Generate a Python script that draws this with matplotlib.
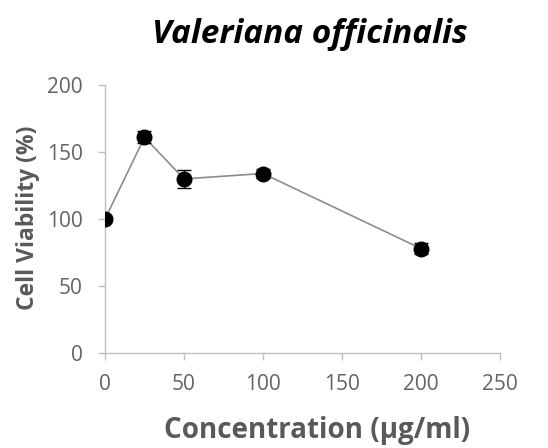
import matplotlib
matplotlib.use("Agg")
import matplotlib.pyplot as plt

concentration = [0, 25, 50, 100, 200]
viability = [100, 161, 130, 134, 78]
errors = [2, 4.5, 7, 3.5, 4]
x_ticks = [0, 50, 100, 150, 200, 250]
y_ticks = [0, 50, 100, 150, 200]

fig = plt.figure(figsize=(5.48, 4.48), dpi=100)
ax = fig.add_axes([0.1916, 0.212, 0.7208, 0.598])

ax.plot(concentration, viability, color="#8c8c8c", lw=1.2, zorder=2)
ax.errorbar(concentration, viability, yerr=errors, fmt="o", color="black",
            ms=10.5, ecolor="black", elinewidth=1, capsize=5, capthick=1, zorder=3)

ax.set_xlim(0, 250)
ax.set_ylim(0, 200)
ax.set_xticks(x_ticks)
ax.set_yticks(y_ticks)
for s in ["top", "right"]:
    ax.spines[s].set_visible(False)
for s in ["left", "bottom"]:
    ax.spines[s].set_color("#bfbfbf")
    ax.spines[s].set_linewidth(1)
ax.tick_params(axis="both", colors="#bfbfbf", length=5, width=1, labelcolor="#636363",
               labelsize=15)
ax.tick_params(axis="y", pad=11)
ax.tick_params(axis="x", pad=10)
for lab in ax.get_xticklabels() + ax.get_yticklabels():
    lab.set_family("Open Sans")

ax.set_ylabel("Cell Viability (%)", fontsize=16.5, fontweight="bold", color="#595959",
              family="Open Sans", va="center")
ax.yaxis.set_label_coords(-0.195, 0.504)
ax.set_xlabel("Concentration (μg/ml)", fontsize=20, fontweight="bold", color="#595959",
              family="Open Sans", va="baseline")
ax.xaxis.set_label_coords(0.538, -0.317)
fig.text(0.566, 0.922, "Valeriana officinalis", fontsize=24, fontweight="bold",
         style="italic", family="Open Sans", ha="center", va="center", color="black")

fig.savefig("out.png", dpi=100)
